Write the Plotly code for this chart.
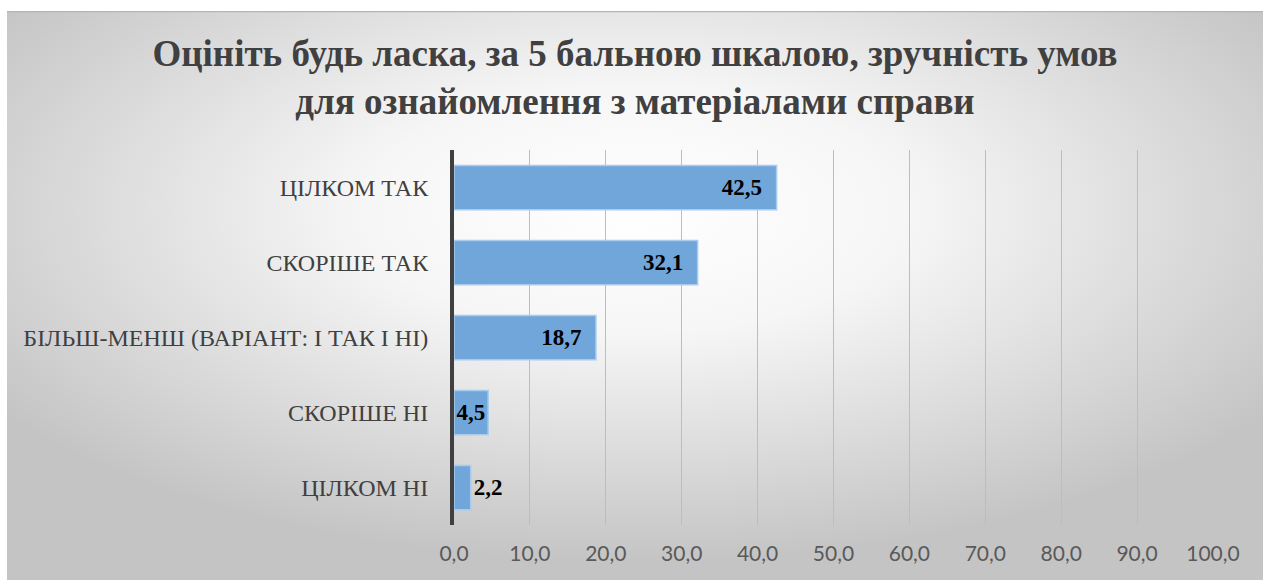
import base64
import plotly.graph_objects as go

categories = ["ЦІЛКОМ ТАК", "СКОРІШЕ ТАК", "БІЛЬШ-МЕНШ (ВАРІАНТ: І ТАК І НІ)", "СКОРІШЕ НІ", "ЦІЛКОМ НІ"]
values = [42.5, 32.1, 18.7, 4.5, 2.2]
tick_vals = [0, 10, 20, 30, 40, 50, 60, 70, 80, 90, 100]
title_text = "Оцініть будь ласка, за 5 бальною шкалою, зручність умов<br>для ознайомлення з матеріалами справи"

W, H = 1263, 580
L, R, T, B = 454, 50, 150, 55
pw, ph = W - L - R, H - T - B

positions = ["inside" if v > 3 else "outside" for v in values]
labels = []
for v, p in zip(values, positions):
    s = f"{v:.1f}".replace(".", ",")
    if p == "inside":
        s = s + "\u2002" if v > 10 else "\u2003" + s
    labels.append(s)

svg = f'''<svg xmlns="http://www.w3.org/2000/svg" width="1256" height="569" viewBox="0 0 1256 569" preserveAspectRatio="none">
<defs><radialGradient id="g" cx="50%" cy="35%" r="62%" fx="50%" fy="35%">
<stop offset="0" stop-color="#ffffff"/><stop offset="0.35" stop-color="#f6f6f6"/><stop offset="1" stop-color="#c4c4c4"/></radialGradient></defs>
<rect x="0" y="0" width="1256" height="569" fill="url(#g)"/>
<line x1="0" y1="0.5" x2="1256" y2="0.5" stroke="#b4b4b4" stroke-width="1.5"/>
</svg>'''
src = "data:image/svg+xml;base64," + base64.b64encode(svg.encode()).decode()

fig = go.Figure()
fig.add_trace(go.Bar(
    y=categories, x=values, orientation="h",
    marker=dict(color="#70a6da", line=dict(color="#a9cbec", width=1.5)),
    text=labels, textposition=positions, insidetextanchor="end", textangle=0,
    textfont=dict(family="Liberation Serif", size=23, color="#000000", weight="bold"),
    cliponaxis=False, width=0.59,
))

fig.update_layout(
    width=W, height=H,
    margin=dict(l=L, r=R, t=T, b=B),
    paper_bgcolor="#ffffff", plot_bgcolor="rgba(0,0,0,0)",
    separators=", ",
    showlegend=False,
    uniformtext=dict(minsize=23, mode="show"),
    title=dict(text=title_text, x=0.5 * (W + 7) / W, xanchor="center", y=(H - 66) / H, yanchor="middle",
               font=dict(family="Liberation Serif", size=37, color="#404040", weight="bold")),
    xaxis=dict(range=[0, 100], tickvals=tick_vals, tickformat=".1f", showgrid=True, gridcolor="#bdbdbd",
               gridwidth=1, zeroline=False, showline=False,
               tickfont=dict(family="Lato", size=21, color="#595959"), ticklabelstandoff=14),
    yaxis=dict(categoryorder="array", categoryarray=categories[::-1], showline=True, linecolor="#404040",
               linewidth=4, showgrid=False, ticks="",
               tickfont=dict(family="Liberation Serif", size=24, color="#404040"), ticklabelstandoff=17),
    images=[dict(source=src, xref="paper", yref="paper",
                 x=(7 - L) / pw, y=(H - B - 11) / ph, sizex=(W - 7) / pw, sizey=(H - 11) / ph,
                 xanchor="left", yanchor="top", sizing="stretch", layer="below")],
)

fig.write_html("out.html", config={"displayModeBar": False},
               post_script="document.body.style.margin='0';document.body.style.overflow='hidden';")
